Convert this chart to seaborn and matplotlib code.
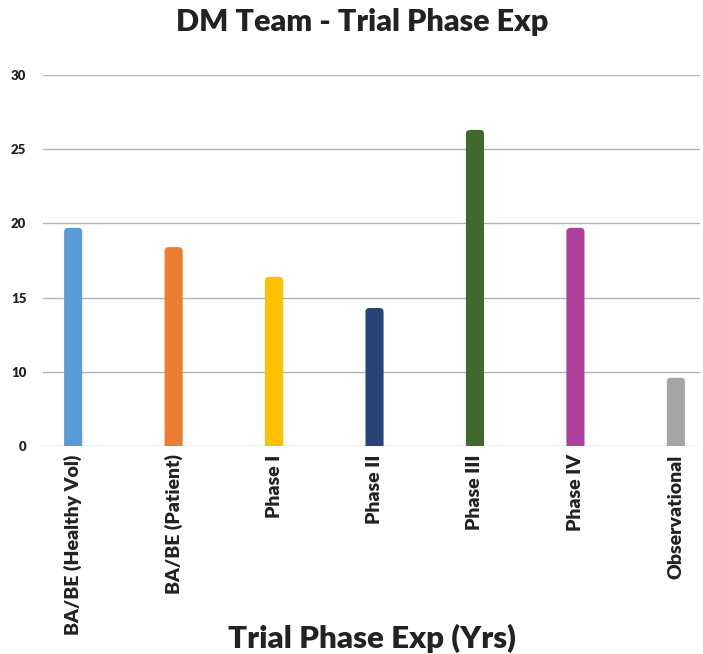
import matplotlib
matplotlib.use('Agg')
import seaborn as sns
import matplotlib.pyplot as plt
from matplotlib.patches import FancyBboxPatch
import pandas as pd

# chart data
phases = ["BA/BE (Healthy Vol)", "BA/BE (Patient)", "Phase I", "Phase II", "Phase III", "Phase IV", "Observational"]
years = [19.7, 18.4, 16.4, 14.3, 26.3, 19.7, 9.6]
barColours = ["#5B9BD5", "#ED7D31", "#FFC000", "#264478", "#43682B", "#AE3F9C", "#A5A5A5"]
yTicks = [5, 10, 15, 20, 25, 30]
yTickLabels = ["0", "10", "15", "20", "25", "30"]	# bottom line is labelled 0 in the original

df = pd.DataFrame({"phase": phases, "years": years})

sns.set_theme(style="white")
plt.rcParams['font.family'] = ['Lato', 'DejaVu Sans']
textColour = "#222222"

fig = plt.figure(figsize=(7.03, 6.54), dpi=100)
ax = fig.add_axes([43/703, 208/654, 657/703, 371/654])

sns.barplot(data=df, x="phase", y="years", hue="phase", palette=barColours,
	legend=False, width=0.18, ax=ax, saturation=1)

# swap plain bars for rounded-top ones
xPxPerUnit = 100.5
yPxPerUnit = 14.8
for p in list(ax.patches):
	x, y, w, h = p.get_x(), p.get_y(), p.get_width(), p.get_height()
	fc = p.get_facecolor()
	p.remove()
	rounded = FancyBboxPatch((x, y), w, h,
		boxstyle="round,pad=0,rounding_size=%f" % (4 / xPxPerUnit),
		mutation_aspect=xPxPerUnit / yPxPerUnit,
		facecolor=fc, edgecolor="none")
	ax.add_patch(rounded)

ax.set_xlim(-0.3, 6.24)
ax.set_ylim(5, 30)
ax.set_yticks(yTicks)
ax.set_yticklabels(yTickLabels)
ax.yaxis.grid(True, color="#b3b3b3", linewidth=1)
ax.set_axisbelow(True)
for s in ax.spines.values():
	s.set_visible(False)

ax.tick_params(axis="y", length=0, pad=12, labelsize=9.5, labelcolor=textColour)
ax.tick_params(axis="x", length=0, pad=6, labelsize=14, labelcolor=textColour)
for lbl in ax.get_yticklabels():
	lbl.set_fontweight("heavy")
for lbl in ax.get_xticklabels():
	lbl.set_rotation(90)
	lbl.set_fontweight("heavy")

ax.set_ylabel("")
ax.set_xlabel("")
fig.text(372/703, 1 - 638/654, "Trial Phase Exp (Yrs)", fontsize=22.5, fontweight="heavy",
	color=textColour, ha="center", va="center")
fig.text(362/703, 1 - 22/654, "DM Team - Trial Phase Exp", fontsize=22, fontweight="heavy",
	color=textColour, ha="center", va="center")

fig.savefig("out.png", dpi=100)
plt.close("all")
